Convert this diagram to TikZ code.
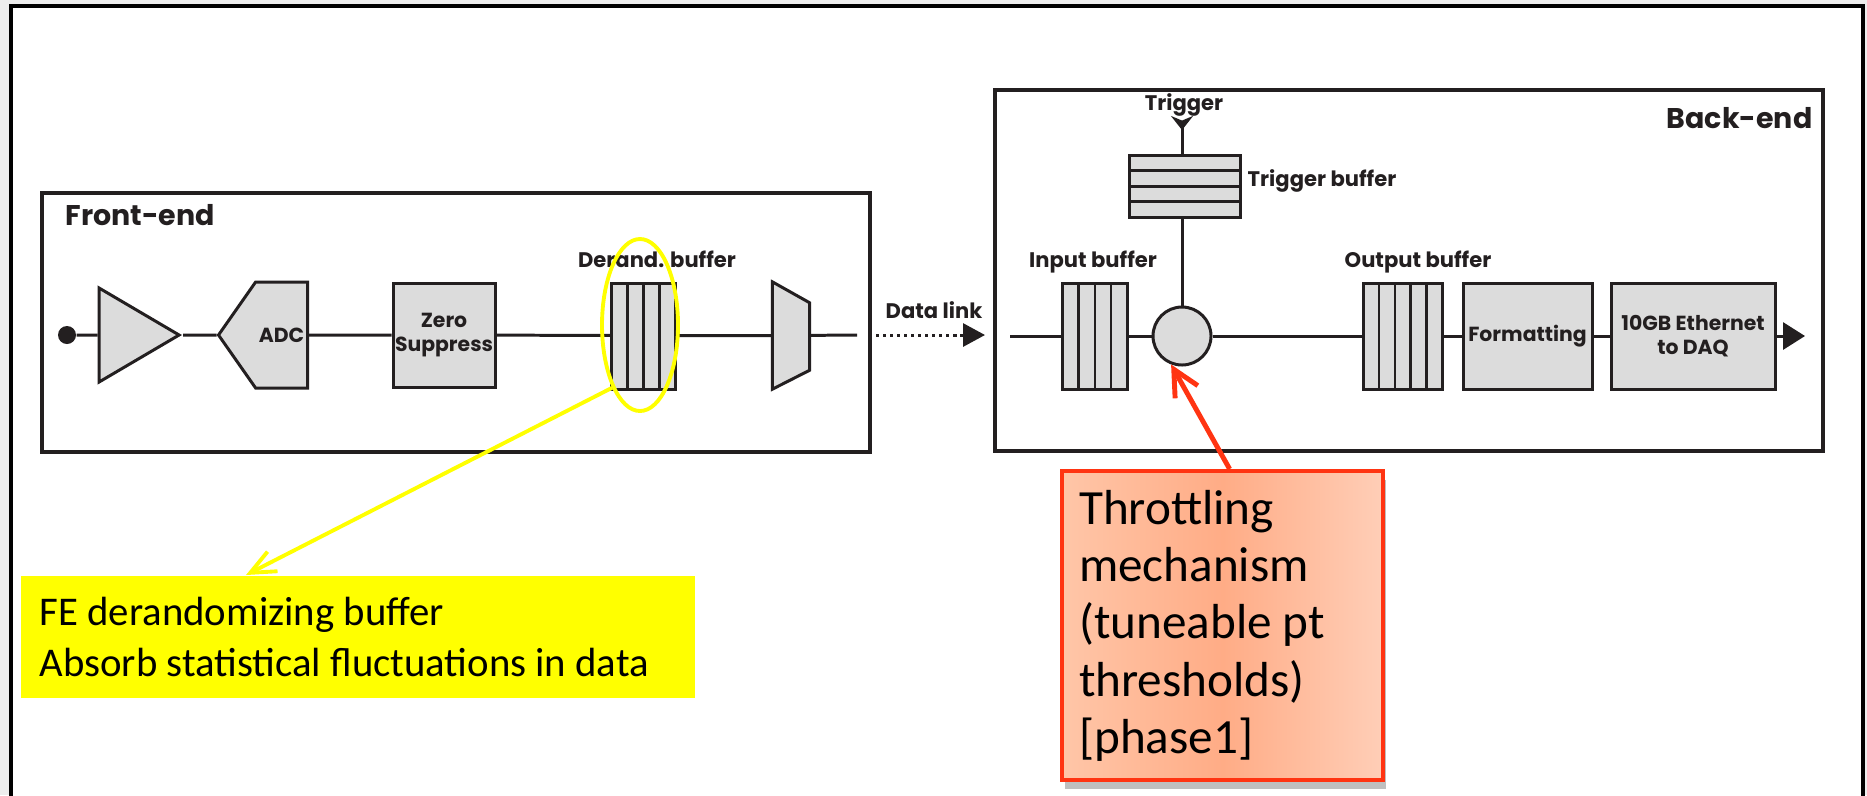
\documentclass[tikz,border=0pt]{standalone}
\usepackage{fontspec}
\setmainfont{Poppins}
\newfontfamily\notefont{Carlito}
\usepackage{xcolor}
\usepackage{tikz}
\usetikzlibrary{positioning, arrows.meta, shapes.geometric, shapes.symbols, shadows}
\definecolor{inkblack}{HTML}{231F20}
\definecolor{partgray}{HTML}{DCDCDC}
\definecolor{slidegray}{HTML}{EDEDED}
\definecolor{hiyellow}{HTML}{FFFF00}
\definecolor{notered}{HTML}{FF3412}
\definecolor{peachleft}{HTML}{FFC6A8}
\definecolor{peachright}{HTML}{FFCEB7}
\definecolor{peachmid}{HTML}{FFAC86}

\begin{document}
\begin{tikzpicture}[x=0.1mm, y=0.1mm,
    wire/.style={draw=inkblack, line width=0.85pt},
    part/.style={draw=inkblack, fill=partgray, line width=0.85pt, inner sep=0pt,
                 font=\bfseries\fontsize{5.8}{7}\selectfont, text=inkblack},
    bar/.style={draw=inkblack, fill=partgray, line width=0.75pt},
    slot/.style={inner sep=0pt, minimum height=10.6mm},
    lbl/.style={font=\bfseries\fontsize{6}{7}\selectfont, text=inkblack, inner sep=0pt},
    ttl/.style={font=\bfseries\fontsize{8.1}{10}\selectfont, text=inkblack, inner sep=0pt},
    frame/.style={draw=inkblack, line width=1.1pt, inner sep=0pt}]

  \useasboundingbox (0,0) rectangle (1867,-795);
  % slide
  \fill[slidegray] (0,0) rectangle (1867,-795);
  \draw[fill=white, draw=black, line width=1pt] (11,-6) rectangle (1863,-820);

  % front-end
  \node[frame, minimum width=82.8mm, minimum height=25.9mm] (fe) at (456,-322.5) {};
  \node[ttl, anchor=base west] (fetitle) at (65,-225) {Front-end};

  \node[circle, fill=inkblack, inner sep=0pt, minimum size=1.8mm] (in) at (67,-335) {};
  \node[part, isosceles triangle, isosceles triangle stretches,
        minimum width=9.4mm, minimum height=8mm, anchor=apex] (amp) at (183,-335) {};
  \node[part, signal, signal to=west, signal from=nowhere, signal pointer angle=110,
        minimum width=8.9mm, minimum height=10.6mm, anchor=east] (adc) at (309,-335) {ADC};
  \node[part, minimum width=10.2mm, minimum height=10.4mm, align=center] (zs) at (444,-335) {Zero\\Suppress};

  \node[slot, minimum width=6.4mm] (drbuf) at (644,-335.5) {};
  \foreach \i in {0,...,3}
    \draw[bar] ([xshift=\i*1.6mm]drbuf.south west) rectangle ++(1.6mm,10.6mm);
  \node[lbl, anchor=base] (drlbl) at (657,-267) {Derand. buffer};

  \node[slot, minimum width=3.6mm] (mux) at (791,-335.5) {};
  \draw[part] (mux.north west) -- ([yshift=-2.1mm]mux.north east)
    -- ([yshift=1.9mm]mux.south east) -- (mux.south west) -- cycle;
  \coordinate (feout) at (857,-335);

  \draw[wire] (in) -- (amp) (amp) -- (adc) (adc) -- (zs) (zs) -- (drbuf)
    (drbuf) -- (mux) (mux) -- (feout);

  % data link
  \coordinate (dlstart) at (876,-335);
  \coordinate (dlend) at (985,-335);
  \draw[wire, dash pattern=on 0.9pt off 1.1pt, -{Triangle[length=2.2mm, width=2.3mm]}] (dlstart) -- (dlend);
  \node[lbl, anchor=base] (dllbl) at (934,-318) {Data link};

  % back-end
  \node[frame, minimum width=82.8mm, minimum height=36.1mm] (be) at (1409,-270.5) {};
  \node[ttl, anchor=base east] (betitle) at (1813,-128) {Back-end};
  \coordinate (bein) at (1010,-336);

  \node[slot, minimum width=6.5mm] (inbuf) at (1095.5,-336) {};
  \foreach \i in {0,...,3}
    \draw[bar] ([xshift=\i*1.625mm]inbuf.south west) rectangle ++(1.625mm,10.6mm);
  \node[lbl, anchor=base] (inlbl) at (1093,-267) {Input buffer};

  \node[part, circle, minimum size=5.8mm] (sw) at (1182,-336) {};

  \node[inner sep=0pt, minimum width=11.1mm, minimum height=6.2mm] (tbuf) at (1185.5,-187) {};
  \foreach \i in {0,...,3}
    \draw[bar] ([yshift=-\i*1.55mm]tbuf.north west) rectangle ++(11.1mm,-1.55mm);
  \node[lbl, anchor=base west] (tblbl) at (1247,-186) {Trigger buffer};
  \coordinate (trig) at (1182,-116);
  \node[lbl, anchor=base] (triglbl) at (1184,-110) {Trigger};
  \draw[wire, {Stealth[reversed, length=1.4mm, width=2.2mm]}-] (trig) -- (trig |- tbuf.north);
  \draw[wire] (sw.north) -- (sw.north |- tbuf.south);

  \node[slot, minimum width=7.9mm] (outbuf) at (1403.5,-336) {};
  \foreach \i in {0,...,4}
    \draw[bar] ([xshift=\i*1.58mm]outbuf.south west) rectangle ++(1.58mm,10.6mm);
  \node[lbl, anchor=base] (outlbl) at (1418,-267) {Output buffer};

  \node[part, minimum width=12.9mm, minimum height=10.6mm] (fmt) at (1527.5,-336) {Formatting};
  \node[part, minimum width=16.4mm, minimum height=10.6mm, align=center] (eth) at (1693,-336) {10GB Ethernet\\to DAQ};
  \coordinate (daq) at (1805,-336);

  \draw[wire] (bein) -- (inbuf) (inbuf) -- (sw) (sw) -- (outbuf) (outbuf) -- (fmt) (fmt) -- (eth);
  \draw[wire, -{Triangle[length=2.2mm, width=2.7mm]}] (eth) -- (daq);

  % notes
  \node[ellipse, draw=hiyellow, line width=1.1pt, minimum width=7.6mm, minimum height=17.2mm] (ell) at (640,-325) {};
  \node[fill=hiyellow, anchor=north west, text width=63.6mm, inner xsep=1.9mm, minimum height=12.2mm,
        align=flush left, font=\notefont\fontsize{11.6}{14.5}\selectfont] (fenote) at (20,-575)
        {FE derandomizing buffer\\Absorb statistical fluctuations in data};
  \draw[hiyellow, line width=1.1pt, -{Straight Barb[length=2.5mm, width=2.2mm]}] (ell.246) -- ([xshift=22.6mm]fenote.north west);

  \node[draw=notered, line width=1.2pt, shading=axis, shading angle=90,
        left color=peachleft, right color=peachright, middle color=peachmid,
        preaction={fill=black, opacity=.25, transform canvas={xshift=.3mm, yshift=-.9mm}},
        anchor=north west, text width=28.7mm, inner xsep=1.7mm, minimum height=30.9mm,
        align=flush left, font=\notefont\fontsize{14}{16.3}\selectfont] (thr) at (1060,-469)
        {Throttling\\mechanism\\(tuneable pt\\thresholds)\\{[phase1]}};
  \draw[notered, line width=1.4pt, -{Straight Barb[length=2.6mm, width=2.6mm]}] ([xshift=0.7mm]thr.north) -- (sw.249);
\end{tikzpicture}
\end{document}
